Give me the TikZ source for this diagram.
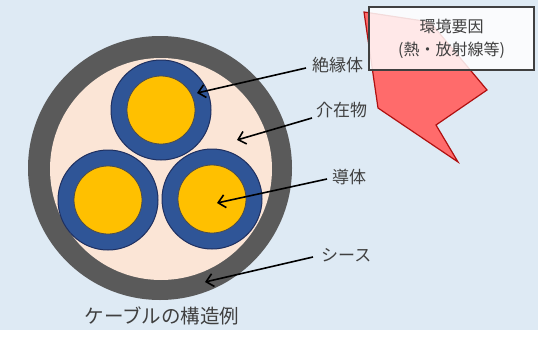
\documentclass[tikz,border=0pt]{standalone}
\usepackage{fontspec}
\newfontfamily\jpfont{Noto Sans CJK JP}
\usetikzlibrary{arrows.meta}
\definecolor{bgblue}{HTML}{DEEAF4}
\definecolor{sheath}{HTML}{5A5A5A}
\definecolor{filler}{HTML}{FBE5D6}
\definecolor{insul}{HTML}{2F5597}
\definecolor{insuledge}{HTML}{1F3060}
\definecolor{core}{HTML}{FFC000}
\definecolor{boltfill}{HTML}{FF6B6B}
\definecolor{boltedge}{HTML}{B01010}
\definecolor{labeltext}{HTML}{404040}
\tikzset{
  insulation/.style={circle, fill=insul, draw=insuledge, line width=1pt, minimum size=100pt, inner sep=0pt},
  conductor/.style={circle, fill=core, draw=black!70, line width=0.8pt, minimum size=68pt, inner sep=0pt},
  partlabel/.style={font=\jpfont\fontsize{17}{19}\selectfont, text=labeltext, inner sep=1pt},
  pointer/.style={line width=1.6pt, black, -{Straight Barb[length=7pt, width=13pt, line width=1.6pt]}},
}
\begin{document}
\begin{tikzpicture}[x=1pt, y=-1pt]
  % page
  \useasboundingbox (0,0) rectangle (538,340);
  \fill[white] (0,0) rectangle (538,340);
  \fill[bgblue] (0,0) rectangle (538,330);

  % cable cross-section
  \node[circle, fill=sheath, minimum size=264pt, inner sep=0pt] (sheath) at (160,168) {};
  \node[circle, fill=filler, minimum size=222pt, inner sep=0pt] (fill) at (161,169) {};
  \node[insulation] (insA) at (161,110) {};
  \node[insulation] (insB) at (108,200) {};
  \node[insulation] (insC) at (212,199) {};
  \node[conductor] (coreA) at (161,110) {};
  \node[conductor] (coreB) at (108,200) {};
  \node[conductor] (coreC) at (212,199) {};

  % heat / radiation bolt
  \draw[fill=boltfill, draw=boltedge, line width=1.2pt, line join=miter]
    (364,12) -- (378,108) -- (458,162) -- (436,125) -- (487,90) -- (430,22) -- cycle;

  % environment box
  \node[draw=black!75, line width=1.3pt, fill=white, fill opacity=0.85, text opacity=1,
        minimum width=165pt, minimum height=63pt, inner sep=0pt,
        font=\jpfont\fontsize{16}{23}\selectfont, text=labeltext, align=center]
    (env) at (451.5,38.5) {環境要因\\(熱・放射線等)};

  % part labels
  \node[partlabel, anchor=west] (lblIns) at (311,65) {絶縁体};
  \node[partlabel, anchor=west] (lblFil) at (315,110) {介在物};
  \node[partlabel, anchor=west] (lblCon) at (331,177) {導体};
  \node[partlabel, anchor=west] (lblShe) at (320,255) {シース};

  % pointer tips
  \coordinate (tipIns) at (197,93);
  \coordinate (tipFil) at (237,140);
  \coordinate (tipCon) at (217,203);
  \coordinate (tipShe) at (205,282);

  \draw[pointer] (lblIns.west) ++(-5,3) -- (tipIns);
  \draw[pointer] (lblFil.west) ++(-3,8) -- (tipFil);
  \draw[pointer] (lblCon.west) ++(-4,2) -- (tipCon);
  \draw[pointer] (lblShe.west) ++(-7,2) -- (tipShe);

  % caption
  \node[partlabel, font=\jpfont\fontsize{19.5}{21}\selectfont] (caption) at (162,316) {ケーブルの構造例};
\end{tikzpicture}
\end{document}
